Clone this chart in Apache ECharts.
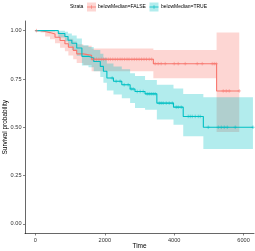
<!DOCTYPE html>
<html>
<head>
<meta charset="utf-8">
<script src="https://cdn.jsdelivr.net/npm/echarts@6/dist/echarts.min.js"></script>
<style>html,body{margin:0;padding:0;background:#fff}#c{width:255px;height:251px}</style>
</head>
<body>
<div id="c"></div>
<script>
// ---- data ----
const seriesNames = ['belowMedian=FALSE', 'belowMedian=TRUE'];
const xTicks = [0, 2000, 4000, 6000];
const yTicks = [0, 0.25, 0.5, 0.75, 1.0];

// FALSE group: step times and survival
const falseTime  = [0, 150, 280, 420, 565, 710, 850, 950, 1090, 1190, 1380, 1620, 3400, 5222];
const falseSurv  = [1.0, 0.996, 0.99, 0.983, 0.966, 0.949, 0.932, 0.915, 0.898, 0.88, 0.872, 0.852, 0.829, 0.688];
const falseUpper = [1.0, 1.0, 1.0, 1.0, 0.995, 0.985, 0.972, 0.958, 0.944, 0.93, 0.922, 0.908, 0.90, 0.99];
const falseLower = [1.0, 0.99, 0.97, 0.955, 0.935, 0.912, 0.893, 0.872, 0.852, 0.832, 0.822, 0.79, 0.754, 0.475];
const falseEnd = 5875;
const falseCensor = [30, 1640, 1700, 1760, 1830, 1900, 1960, 2030, 2100, 2160, 2230, 2300, 2370, 2440, 2500, 2570,
  2640, 2700, 2780, 2850, 2920, 2990, 3060, 3130, 3200, 3280, 3350,
  3452, 3539, 3625, 3741, 4000, 4116, 4318, 4664, 4808, 5096, 5154, 5212,
  5413, 5500, 5586, 5875];

// TRUE group
const trueTime  = [0, 660, 850, 940, 1050, 1190, 1340, 1530, 1680, 1870, 1960, 2060, 2250, 2490, 2730, 2870, 3160, 3500, 3980, 4260, 4840];
const trueSurv  = [1.0, 0.985, 0.97, 0.95, 0.935, 0.91, 0.867, 0.858, 0.84, 0.815, 0.79, 0.755, 0.738, 0.72, 0.698, 0.685, 0.673, 0.625, 0.604, 0.556, 0.50];
const trueUpper = [1.0, 1.0, 0.995, 0.985, 0.975, 0.96, 0.925, 0.915, 0.90, 0.88, 0.86, 0.83, 0.815, 0.80, 0.78, 0.765, 0.745, 0.72, 0.70, 0.672, 0.655];
const trueLower = [1.0, 0.965, 0.945, 0.92, 0.90, 0.87, 0.82, 0.81, 0.79, 0.76, 0.73, 0.69, 0.67, 0.65, 0.625, 0.60, 0.59, 0.54, 0.513, 0.453, 0.388];
const trueEnd = 6270;
const trueCensor = [2212, 2327, 2442, 2558, 2673, 2760, 2818, 2933, 3019, 3106, 3221, 3279, 3337, 3394, 3452,
  3568, 3625, 3683, 3770, 3856, 3943, 4058, 4116, 4202, 4404, 4462, 4520, 4606, 4693, 4750,
  4981, 5269, 5356, 5442, 5529, 5759, 6270];

// ---- helpers (build chart data from the arrays) ----
const RED = '#F8766D', TEAL = '#00BFC4';
function stepData(time, surv, end) {
  const d = time.map((t, i) => [t, surv[i]]);
  d.push([end, surv[surv.length - 1]]);
  return d;
}
function survAt(time, surv, t) {
  let v = surv[0];
  for (let i = 0; i < time.length; i++) if (time[i] <= t) v = surv[i];
  return v;
}
function censorData(cens, time, surv) {
  return cens.map(t => [t, survAt(time, surv, t)]);
}
function bandSeries(time, upper, lower, end, color) {
  return {
    type: 'custom',
    silent: true,
    clip: true,
    z: 1,
    data: [[time[0], lower[0]]],
    renderItem: function (params, api) {
      const top = [], bot = [];
      for (let i = 0; i < time.length; i++) {
        const t1 = i + 1 < time.length ? time[i + 1] : end;
        top.push(api.coord([time[i], upper[i]]));
        top.push(api.coord([t1, upper[i]]));
        bot.push(api.coord([time[i], lower[i]]));
        bot.push(api.coord([t1, lower[i]]));
      }
      const pts = top.concat(bot.reverse());
      return { type: 'polygon', shape: { points: pts }, style: { fill: color, opacity: 0.3 } };
    }
  };
}
const plusPath = 'path://M0,-5L0,5M-5,0L5,0';
function censorSeries(data, color) {
  return {
    type: 'scatter', data: data, symbol: plusPath, symbolSize: 3.6, silent: true, z: 4,
    itemStyle: { color: 'rgba(0,0,0,0)', borderColor: color, borderWidth: 0.6 }
  };
}
function lineSeries(name, data, color) {
  return {
    name: name, type: 'line', step: 'end', data: data, showSymbol: false, silent: true, z: 3,
    lineStyle: { color: color, width: 1.1 }
  };
}

const FONT = 'Liberation Sans';
const chart = echarts.init(document.getElementById('c'), null, { renderer: 'canvas' });
const keyFill = 0.3;
chart.setOption({
  animation: false,
  backgroundColor: '#fff',
  grid: { left: 25, right: 1, top: 21, bottom: 17.5, containLabel: false, outerBoundsMode: 'none' },
  xAxis: {
    type: 'value', min: -300, max: 6300,
    name: 'Time', nameLocation: 'middle', nameGap: 9.5, nameMoveOverlap: false,
    nameTextStyle: { fontFamily: FONT, fontSize: 6.5, color: '#000', verticalAlign: 'top' },
    axisLine: { onZero: false, lineStyle: { color: '#000', width: 0.6 } },
    axisTick: { customValues: xTicks, length: 2, lineStyle: { color: '#333', width: 0.6 } },
    axisLabel: { customValues: xTicks, margin: 3.5, fontFamily: FONT, fontSize: 5.6, color: '#333',
      formatter: v => String(v) },
    splitLine: { show: false }
  },
  yAxis: {
    type: 'value', min: -0.05, max: 1.05,
    name: 'Survival probability', nameLocation: 'middle', nameGap: 16, nameMoveOverlap: false,
    nameTextStyle: { fontFamily: FONT, fontSize: 6.5, color: '#000' },
    axisLine: { show: true, onZero: false, lineStyle: { color: '#000', width: 0.6 } },
    axisTick: { show: true, customValues: yTicks, length: 2, lineStyle: { color: '#333', width: 0.6 } },
    axisLabel: { customValues: yTicks, margin: 3.5, fontFamily: FONT, fontSize: 5.6, color: '#333',
      formatter: v => v.toFixed(2) },
    splitLine: { show: false }
  },
  graphic: [
    { type: 'text', left: 70, top: 4.5, style: { text: 'Strata', fontFamily: FONT, fontSize: 5, fill: '#000' } },
    { type: 'rect', shape: { x: 87, y: 2.5, width: 9, height: 9 }, style: { fill: RED, opacity: keyFill } },
    { type: 'line', shape: { x1: 87, y1: 7, x2: 96, y2: 7 }, style: { stroke: RED, lineWidth: 0.8 } },
    { type: 'line', shape: { x1: 91.5, y1: 5.2, x2: 91.5, y2: 8.8 }, style: { stroke: RED, lineWidth: 0.6 } },
    { type: 'text', left: 98, top: 4.5, style: { text: seriesNames[0], fontFamily: FONT, fontSize: 5, fill: '#000' } },
    { type: 'rect', shape: { x: 149.5, y: 2.5, width: 9, height: 9 }, style: { fill: TEAL, opacity: keyFill } },
    { type: 'line', shape: { x1: 149.5, y1: 7, x2: 158.5, y2: 7 }, style: { stroke: TEAL, lineWidth: 0.8 } },
    { type: 'line', shape: { x1: 154, y1: 5.2, x2: 154, y2: 8.8 }, style: { stroke: TEAL, lineWidth: 0.6 } },
    { type: 'text', left: 161, top: 4.5, style: { text: seriesNames[1], fontFamily: FONT, fontSize: 5, fill: '#000' } }
  ],
  series: [
    bandSeries(falseTime, falseUpper, falseLower, falseEnd, RED),
    bandSeries(trueTime, trueUpper, trueLower, trueEnd, TEAL),
    lineSeries(seriesNames[0], stepData(falseTime, falseSurv, falseEnd), RED),
    lineSeries(seriesNames[1], stepData(trueTime, trueSurv, trueEnd), TEAL),
    censorSeries(censorData(falseCensor, falseTime, falseSurv), RED),
    censorSeries(censorData(trueCensor, trueTime, trueSurv), TEAL)
  ]
});
</script>
</body>
</html>
